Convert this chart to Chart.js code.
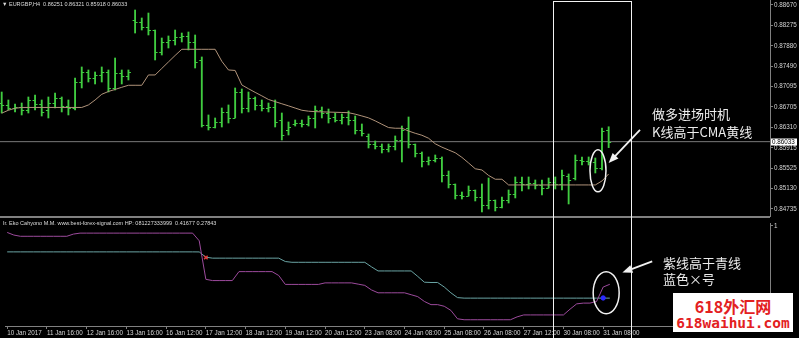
<!DOCTYPE html>
<html>
<head>
<meta charset="utf-8">
<script src="https://cdn.jsdelivr.net/npm/chart.js@4.4.0/dist/chart.umd.min.js"></script>
<style>
  html, body { margin: 0; padding: 0; background: #000; }
  #wrap { position: relative; width: 799px; height: 338px; overflow: hidden; background: #000;
          font-family: 'Liberation Sans', Arial, sans-serif; }
  #top { position: absolute; left: 0; top: 0; }
  #bot { position: absolute; left: 0; top: 218px; }
  .info { position: absolute; color: #dcdcdc; font-size: 5.5px; line-height: 7px; white-space: nowrap; }
  .note { position: absolute; color: #ececec; font-family: 'Noto Sans CJK SC', sans-serif;
          font-size: 13px; line-height: 13px; white-space: nowrap; }
  #frame { position: absolute; left: 553px; top: 1px; width: 79px; height: 345px;
           box-sizing: border-box; border: 1px solid #f2f2f2; pointer-events: none; }
  #wm { position: absolute; left: 673px; top: 293px; width: 120px; height: 39px; background: #fff;
        color: #e3211f; text-align: center; font-weight: bold; }
  #wm .a { font-family: 'Noto Sans CJK SC', sans-serif; font-size: 16px; line-height: 19px; margin-top: 4px; }
  #wm .b { font-family: 'DejaVu Sans Mono', monospace; font-size: 14.5px; line-height: 15px; }
</style>
</head>
<body>
<div id="wrap">
  <canvas id="top" width="799" height="218"></canvas>
  <canvas id="bot" width="799" height="120"></canvas>
  <div class="info" style="left:2px;top:1px;">▼ EURGBP,H4&nbsp; 0.86251 0.86321 0.85918 0.86033</div>
  <div class="info" style="left:3px;top:220px;">Ir. Eko Cahyono M.M. www.best-forex-signal.com HP: 081227333999&nbsp; 0.41677 0.27843</div>
  <div class="note" style="left:652px;top:107px;">做多进场时机</div>
  <div class="note" style="left:652px;top:125px;">K线高于CMA黄线</div>
  <div class="note" style="left:663px;top:256px;">紫线高于青线</div>
  <div class="note" style="left:663px;top:272px;">蓝色×号</div>
  <div id="frame"></div>
  <div id="wm"><div class="a">618外汇网</div><div class="b">618waihui.com</div></div>
</div>
<script>
// EURGBP H4, 10 Jan - 31 Jan 2017
const tickLabels = ['10 Jan 2017', '11 Jan 16:00', '12 Jan 16:00', '13 Jan 16:00', '16 Jan 12:00',
  '17 Jan 12:00', '18 Jan 12:00', '19 Jan 12:00', '20 Jan 12:00', '23 Jan 08:00', '24 Jan 08:00',
  '25 Jan 08:00', '26 Jan 08:00', '27 Jan 12:00', '30 Jan 08:00', '31 Jan 08:00'];
const priceTicks = [0.88670, 0.88275, 0.87880, 0.87490, 0.87095, 0.86705, 0.86310, 0.85915, 0.85525, 0.85130, 0.84735];
const bid = 0.86033;

const opens = [0.86779, 0.86741, 0.86683, 0.86702, 0.86644, 0.86837, 0.86760, 0.86644, 0.86779, 0.86876,
  0.86721, 0.86683, 0.87184, 0.87377, 0.87261, 0.87319, 0.87377, 0.87069, 0.87358, 0.87300,
  0.88380, 0.88342, 0.88245, 0.88187, 0.87763, 0.87956, 0.87994, 0.88052, 0.88072, 0.87956,
  0.87609, 0.86355, 0.86316, 0.86413, 0.86606, 0.86490, 0.86991, 0.86683, 0.86876, 0.86741,
  0.86683, 0.86702, 0.86451, 0.86258, 0.86374, 0.86393, 0.86374, 0.86490, 0.86644, 0.86586,
  0.86509, 0.86451, 0.86509, 0.86451, 0.86258, 0.86143, 0.85988, 0.85950, 0.85892, 0.85950,
  0.86065, 0.86297, 0.85988, 0.85815, 0.85660, 0.85680, 0.85718, 0.85390, 0.85217, 0.85004,
  0.84985, 0.85101, 0.84966, 0.84812, 0.84908, 0.84773, 0.84908, 0.85024, 0.85255, 0.85217,
  0.85236, 0.85197, 0.85140, 0.85255, 0.85217, 0.85371, 0.85332, 0.85680, 0.85660, 0.85641,
  0.85525, 0.86251];
const highs = [0.86991, 0.86837, 0.86760, 0.86779, 0.86895, 0.86933, 0.86837, 0.86895, 0.86972, 0.86895,
  0.86837, 0.87261, 0.87474, 0.87416, 0.87377, 0.87474, 0.87416, 0.87647, 0.87416, 0.87416,
  0.88573, 0.88419, 0.88515, 0.88187, 0.88033, 0.88072, 0.88187, 0.88129, 0.88149, 0.88091,
  0.87667, 0.86548, 0.86490, 0.86683, 0.86741, 0.87069, 0.87049, 0.86991, 0.86895, 0.86837,
  0.86779, 0.86837, 0.86586, 0.86413, 0.86451, 0.86451, 0.86528, 0.86721, 0.86702, 0.86663,
  0.86586, 0.86567, 0.86625, 0.86528, 0.86374, 0.86181, 0.86046, 0.85988, 0.85988, 0.86143,
  0.86335, 0.86509, 0.85988, 0.85834, 0.85738, 0.85776, 0.85738, 0.85467, 0.85217, 0.85062,
  0.85178, 0.85101, 0.85217, 0.85332, 0.84908, 0.84966, 0.85101, 0.85352, 0.85352, 0.85352,
  0.85294, 0.85294, 0.85332, 0.85352, 0.85487, 0.85410, 0.85776, 0.85738, 0.85738, 0.85718,
  0.86297, 0.86321];
const lows = [0.86586, 0.86644, 0.86606, 0.86548, 0.86586, 0.86644, 0.86528, 0.86490, 0.86683, 0.86606,
  0.86548, 0.86644, 0.87069, 0.87184, 0.87146, 0.87184, 0.86991, 0.87030, 0.87146, 0.87223,
  0.88129, 0.88187, 0.88091, 0.87609, 0.87705, 0.87840, 0.87898, 0.87956, 0.87802, 0.87454,
  0.86316, 0.86258, 0.86297, 0.86316, 0.86393, 0.86490, 0.86586, 0.86606, 0.86644, 0.86625,
  0.86606, 0.86316, 0.86065, 0.86162, 0.86335, 0.86316, 0.86335, 0.86297, 0.86490, 0.86393,
  0.86413, 0.86374, 0.86355, 0.86181, 0.86143, 0.85911, 0.85892, 0.85815, 0.85834, 0.85873,
  0.85641, 0.85911, 0.85738, 0.85545, 0.85583, 0.85641, 0.85255, 0.85140, 0.84927, 0.84927,
  0.84985, 0.84889, 0.84677, 0.84734, 0.84696, 0.84754, 0.84850, 0.84947, 0.85082, 0.85120,
  0.85120, 0.85004, 0.85140, 0.85120, 0.85101, 0.84831, 0.85294, 0.85583, 0.85583, 0.85429,
  0.85487, 0.85918];
const closes = [0.86741, 0.86683, 0.86702, 0.86644, 0.86837, 0.86760, 0.86606, 0.86779, 0.86876, 0.86721,
  0.86683, 0.87184, 0.87377, 0.87261, 0.87319, 0.87377, 0.87069, 0.87358, 0.87300, 0.87377,
  0.88342, 0.88245, 0.88187, 0.87763, 0.87956, 0.87994, 0.88052, 0.88072, 0.87956, 0.87570,
  0.86355, 0.86316, 0.86413, 0.86606, 0.86490, 0.86991, 0.86683, 0.86876, 0.86741, 0.86683,
  0.86702, 0.86413, 0.86162, 0.86316, 0.86393, 0.86374, 0.86490, 0.86644, 0.86586, 0.86490,
  0.86451, 0.86509, 0.86451, 0.86258, 0.86200, 0.85988, 0.85950, 0.85892, 0.85950, 0.86065,
  0.86258, 0.85988, 0.85815, 0.85660, 0.85680, 0.85718, 0.85390, 0.85217, 0.85004, 0.84985,
  0.85101, 0.84966, 0.84812, 0.84908, 0.84773, 0.84908, 0.85024, 0.85255, 0.85217, 0.85236,
  0.85197, 0.85140, 0.85255, 0.85217, 0.85390, 0.85294, 0.85680, 0.85660, 0.85641, 0.85525,
  0.86239, 0.86033];
// CMA (tan line on price)
const cma = [0.86583, 0.86639, 0.86677, 0.86693, 0.86693, 0.86693, 0.86693, 0.86693, 0.86693, 0.86693,
  0.86693, 0.86693, 0.86693, 0.86741, 0.86837, 0.86947, 0.87001, 0.87040, 0.87082, 0.87121,
  0.87121, 0.87121, 0.87320, 0.87320, 0.87445, 0.87571, 0.87696, 0.87815, 0.87815, 0.87815,
  0.87815, 0.87815, 0.87815, 0.87584, 0.87416, 0.87407, 0.87127, 0.87054, 0.86984, 0.86917,
  0.86847, 0.86805, 0.86764, 0.86724, 0.86681, 0.86639, 0.86621, 0.86612, 0.86608, 0.86604,
  0.86600, 0.86596, 0.86592, 0.86564, 0.86529, 0.86492, 0.86434, 0.86369, 0.86305, 0.86292,
  0.86292, 0.86239, 0.86195, 0.86157, 0.86099, 0.85992, 0.85927, 0.85873, 0.85819, 0.85730,
  0.85622, 0.85510, 0.85487, 0.85381, 0.85308, 0.85308, 0.85198, 0.85198, 0.85198, 0.85198,
  0.85198, 0.85198, 0.85198, 0.85198, 0.85198, 0.85198, 0.85198, 0.85198, 0.85198, 0.85198,
  0.85275, 0.85410];
// indicator window
const purple = [0.9346, 0.9087, 0.8962, 0.8962, 0.8962, 0.8962, 0.8962, 0.8962, 0.8962, 0.8962,
  0.9183, 0.9279, 0.9279, 0.9279, 0.9279, 0.9279, 0.9279, 0.9279, 0.9279, 0.9279,
  0.9279, 0.9279, 0.9279, 0.9279, 0.9279, 0.9279, 0.9279, 0.9279, 0.9279, 0.8510,
  0.4663, 0.4538, 0.4538, 0.4538, 0.4538, 0.5433, 0.5433, 0.5433, 0.5433, 0.5433,
  0.5433, 0.5048, 0.4154, 0.4154, 0.4154, 0.4154, 0.4154, 0.4154, 0.4308, 0.4308,
  0.4308, 0.4308, 0.4308, 0.4183, 0.4058, 0.3606, 0.3317, 0.3317, 0.3317, 0.3317,
  0.3317, 0.3125, 0.2933, 0.2452, 0.2135, 0.2135, 0.1971, 0.1558, 0.0721, 0.0625,
  0.0625, 0.0625, 0.0625, 0.0625, 0.0625, 0.0625, 0.0625, 0.0913, 0.1106, 0.1106,
  0.1106, 0.1106, 0.1106, 0.1106, 0.1106, 0.1683, 0.2212, 0.2288, 0.2288, 0.2452,
  0.3894, 0.41677];
const cyan = [0.7404, 0.7404, 0.7404, 0.7404, 0.7404, 0.7404, 0.7404, 0.7404, 0.7404, 0.7404,
  0.7404, 0.7404, 0.7404, 0.7404, 0.7404, 0.7404, 0.7404, 0.7404, 0.7404, 0.7404,
  0.7404, 0.7404, 0.7404, 0.7404, 0.7404, 0.7404, 0.7404, 0.7404, 0.7404, 0.7400,
  0.6875, 0.6779, 0.6779, 0.6779, 0.6779, 0.6779, 0.6779, 0.6779, 0.6779, 0.6779,
  0.6779, 0.6779, 0.6442, 0.6365, 0.6365, 0.6365, 0.6365, 0.6365, 0.6365, 0.6365,
  0.6365, 0.6365, 0.6365, 0.6365, 0.6365, 0.5913, 0.5500, 0.5500, 0.5500, 0.5500,
  0.5500, 0.5500, 0.4952, 0.4375, 0.4346, 0.4346, 0.3894, 0.3317, 0.2837, 0.27843,
  0.27843, 0.27843, 0.27843, 0.27843, 0.27843, 0.27843, 0.27843, 0.27843, 0.27843, 0.27843,
  0.27843, 0.27843, 0.27843, 0.27843, 0.27843, 0.27843, 0.27843, 0.27843, 0.27843, 0.27843,
  0.27843, 0.27843];
const redIdx = [30], redVal = [0.685];
const blueIdx = [90], blueVal = [0.280];

const barColor = '#40cc40';
const axisColor = '#808080';
const textColor = '#d4d4d4';
const axisFont = { family: 'Liberation Sans', size: 6.3 };
const xMin = -0.255, xMax = 115.19;

const pts = arr => arr.map((v, i) => ({ x: i, y: v }));

function drawArrow(ctx, x1, y1, x2, y2) {
  const a = Math.atan2(y2 - y1, x2 - x1);
  const c = Math.cos(a), s = Math.sin(a);
  ctx.strokeStyle = '#f2f2f2';
  ctx.fillStyle = '#f2f2f2';
  ctx.lineWidth = 1.8;
  ctx.beginPath();
  ctx.moveTo(x1, y1);
  ctx.lineTo(x2 - 7 * c, y2 - 7 * s);
  ctx.stroke();
  ctx.beginPath();
  ctx.moveTo(x2, y2);
  ctx.lineTo(x2 - 10 * c + 4 * s, y2 - 10 * s - 4 * c);
  ctx.lineTo(x2 - 10 * c - 4 * s, y2 - 10 * s + 4 * c);
  ctx.closePath();
  ctx.fill();
}

// ellipse + arrow notes, placed in data space
function notePlugin(id, mark) {
  return {
    id,
    afterDraw(chart) {
      const { ctx, scales: { x, y } } = chart;
      ctx.save();
      ctx.strokeStyle = '#f2f2f2';
      ctx.lineWidth = 1.5;
      ctx.beginPath();
      ctx.ellipse(x.getPixelForValue(mark.cx), y.getPixelForValue(mark.cy), mark.rx, mark.ry, 0, 0, Math.PI * 2);
      ctx.stroke();
      drawArrow(ctx, x.getPixelForValue(mark.ax1), y.getPixelForValue(mark.ay1),
        x.getPixelForValue(mark.ax2), y.getPixelForValue(mark.ay2));
      ctx.restore();
    }
  };
}

const ohlcTicks = {
  id: 'ohlcTicks',
  afterDatasetDraw(chart, args) {
    if (args.index !== 1) return;
    const { ctx, scales: { x, y } } = chart;
    ctx.save();
    ctx.strokeStyle = barColor;
    ctx.lineWidth = 1;
    ctx.beginPath();
    opens.forEach((o, i) => {
      const px = x.getPixelForValue(i);
      const yo = Math.round(y.getPixelForValue(o)) + 0.5;
      const yc = Math.round(y.getPixelForValue(closes[i])) + 0.5;
      ctx.moveTo(px - 2.5, yo); ctx.lineTo(px, yo);
      ctx.moveTo(px, yc); ctx.lineTo(px + 2.5, yc);
    });
    ctx.stroke();
    ctx.restore();
  }
};

// separator + bid price label
const topExtras = {
  id: 'topExtras',
  afterDraw(chart) {
    const { ctx, chartArea, scales: { y } } = chart;
    ctx.save();
    ctx.fillStyle = axisColor;
    ctx.fillRect(chartArea.left, chartArea.bottom, chartArea.right - chartArea.left, 2);
    const py = y.getPixelForValue(bid);
    ctx.fillStyle = '#ffffff';
    ctx.fillRect(chartArea.right + 1, Math.round(py) - 3.5, 26, 7);
    ctx.fillStyle = '#000';
    ctx.font = '6.3px "Liberation Sans"';
    ctx.textBaseline = 'middle';
    ctx.fillText(bid.toFixed(5), chartArea.right + 2, Math.round(py));
    ctx.restore();
  }
};

new Chart(document.getElementById('top'), {
  type: 'bar',
  data: {
    datasets: [
      { type: 'line', data: pts(cma), borderColor: '#b0937a', borderWidth: 1, pointRadius: 0, tension: 0 },
      { type: 'bar', data: lows.map((l, i) => ({ x: i, y: [l, highs[i]] })), backgroundColor: barColor,
        barThickness: 1.2, grouped: false },
      { type: 'line', data: [{ x: xMin - 1, y: bid }, { x: xMax + 1, y: bid }], borderColor: '#7a7a7a',
        borderWidth: 1, pointRadius: 0 }
    ]
  },
  options: {
    responsive: false,
    animation: false,
    layout: { padding: { top: 0, bottom: 2, left: 0, right: 0 } },
    plugins: { legend: { display: false }, tooltip: { enabled: false } },
    scales: {
      x: { type: 'linear', min: xMin, max: xMax, offset: false, display: false },
      y: {
        position: 'right', min: 0.84599, max: 0.88766,
        grid: { drawOnChartArea: false, drawTicks: true, tickLength: 3, color: axisColor },
        border: { color: axisColor },
        ticks: { color: textColor, font: axisFont, padding: 1, callback: v => v.toFixed(5) },
        afterBuildTicks: a => { a.ticks = priceTicks.map(v => ({ value: v })); },
        afterFit: a => { a.width = 29; a.paddingTop = 0; a.paddingBottom = 0; }
      }
    }
  },
  plugins: [ohlcTicks, topExtras, notePlugin('topNote',
    { cx: 89.4, cy: 0.8547, rx: 8, ry: 21, ax1: 95.7, ay1: 0.8626, ax2: 91.0, ay2: 0.8562 })]
});

new Chart(document.getElementById('bot'), {
  type: 'line',
  data: {
    datasets: [
      { data: redIdx.map((v, i) => ({ x: v, y: redVal[i] })), showLine: false, pointStyle: 'crossRot',
        pointRadius: 2.5, borderColor: '#e23a3a', borderWidth: 1.5 },
      { data: blueIdx.map((v, i) => ({ x: v, y: blueVal[i] })), showLine: false, pointStyle: 'circle',
        pointRadius: 2.2, backgroundColor: '#2a2aff', borderColor: '#2a2aff', borderWidth: 1 },
      { data: pts(purple), borderColor: '#9c4a9c', borderWidth: 1, pointRadius: 0, tension: 0 },
      { data: pts(cyan), borderColor: '#6aa4a4', borderWidth: 1, pointRadius: 0, tension: 0 }
    ]
  },
  options: {
    responsive: false,
    animation: false,
    layout: { padding: { top: 1, bottom: 0, left: 0, right: 0 } },
    plugins: { legend: { display: false }, tooltip: { enabled: false } },
    scales: {
      x: {
        type: 'linear', min: xMin, max: xMax, offset: false,
        grid: { drawOnChartArea: false, drawTicks: true, tickLength: 3, color: axisColor },
        border: { color: axisColor },
        ticks: { color: textColor, font: axisFont, padding: 0, align: 'start', autoSkip: false,
                 maxRotation: 0, callback: (v, i) => tickLabels[i] },
        afterBuildTicks: a => { a.ticks = tickLabels.map((t, k) => ({ value: k * 6 })); },
        afterFit: a => { a.height = 12; a.paddingLeft = 0; a.paddingRight = 0; }
      },
      y: {
        position: 'right', min: 0, max: 1.024,
        grid: { drawOnChartArea: false, drawTicks: true, tickLength: 3, color: axisColor },
        border: { color: axisColor },
        ticks: { color: textColor, font: axisFont, padding: 1, callback: v => String(v) },
        afterBuildTicks: a => { a.ticks = [{ value: 1 }]; },
        afterFit: a => { a.width = 29; a.paddingTop = 0; a.paddingBottom = 0; }
      }
    }
  },
  plugins: [notePlugin('botNote',
    { cx: 90.45, cy: 0.332, rx: 13, ry: 21, ax1: 97.4, ay1: 0.646, ax2: 92.9, ay2: 0.534 })]
});
</script>
</body>
</html>
